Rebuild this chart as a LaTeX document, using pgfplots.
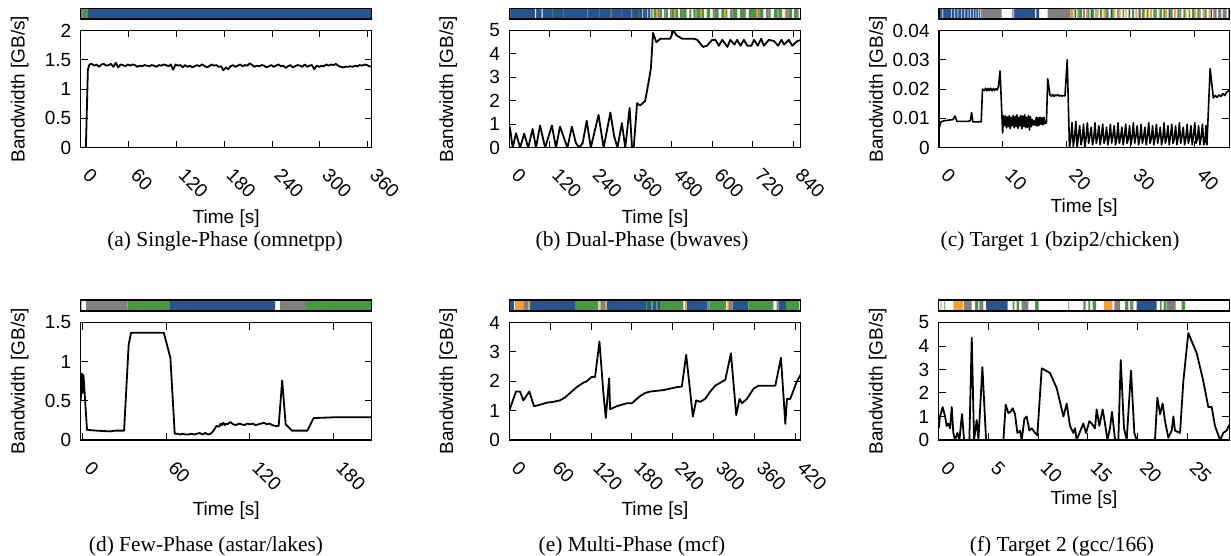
\documentclass[border=0pt]{standalone}
\usepackage{fontspec}
\setmainfont{Liberation Sans}
\newfontfamily\capfont{Liberation Serif}
\usepackage{pgfplots}
\pgfplotsset{compat=1.18}

\definecolor{phblue}{RGB}{38,84,145}
\definecolor{phgreen}{RGB}{72,152,64}
\definecolor{phgrey}{RGB}{128,128,128}
\definecolor{phorange}{RGB}{250,160,40}

\pgfplotsset{
  base/.style={
    scale only axis, anchor=north west,
    axis line style={line width=0.7pt},
    every tick/.style={black, line width=0.5pt},
    major tick length=3.5pt,
    tick align=inside,
    tick label style={font=\fontsize{9.5}{10}\selectfont},
    /pgf/number format/assume math mode=true,
  },
  mainax/.style={
    base,
    xticklabel style={xshift=5.3pt, yshift=-9.6pt, rotate=-45, anchor=north west, inner sep=0pt},
    yticklabel style={inner sep=0pt, xshift=-4.5pt},
    ylabel={Bandwidth [GB/s]}, xlabel={Time [s]},
    label style={font=\fontsize{9.5}{10}\selectfont},
    ylabel style={at={([xshift=-30.5pt]axis description cs:0,0.5)}, anchor=center},
    xlabel style={at={([yshift=-#1]axis description cs:0.5,0)}, anchor=center},
    ymin=0,
  },
  mainax/.default=35.5pt,
  barax/.style={
    base, axis on top, xtick=\empty, ytick=\empty,
    xmin=0, ymin=0, ymax=1,
  },
  seg/.style={const plot, draw=none, fill=#1},
  bw/.style={black, line width=0.9pt, line join=round, mark=none},
}

\begin{document}
\begin{tikzpicture}
\useasboundingbox (0,0) rectangle (615.5pt,-278pt);

% ---------------- (a) Single-Phase (omnetpp) ----------------
\begin{axis}[barax, at={(40.35pt,-4.15pt)}, width=145.5pt, height=5.35pt, xmax=291]
\addplot[seg=phgrey]  coordinates {(0,1)(2.3,0)} \closedcycle;
\addplot[seg=phgreen] coordinates {(2.3,1)(6.7,0)} \closedcycle;
\addplot[seg=phblue]  coordinates {(6.7,1)(291,0)} \closedcycle;
\end{axis}
\begin{axis}[mainax, at={(40.35pt,-15.25pt)}, width=145.5pt, height=58.6pt,
  xmin=0, xmax=365, ymax=2, xtick={0,60,...,360}, ytick={0,0.5,1,1.5,2}]
\addplot[bw] coordinates {(0,0.00)(6.5,0.00)(9,1.33)(11,1.42)(14,1.43)(17,1.40)(20,1.42)(23,1.38)(26,1.42)(29,1.43)(32,1.40)(35,1.41)(38,1.43)(41,1.38)(44,1.45)(47,1.37)(50,1.42)(53,1.41)(56,1.39)(59,1.42)(62,1.40)(65,1.42)(68,1.41)(71,1.38)(74,1.40)(77,1.39)(80,1.41)(83,1.40)(86,1.39)(89,1.41)(92,1.40)(95,1.38)(98,1.41)(101,1.40)(104,1.42)(107,1.41)(110,1.39)(113,1.42)(116,1.33)(119,1.42)(122,1.40)(125,1.41)(128,1.37)(131,1.41)(134,1.38)(137,1.40)(140,1.37)(143,1.39)(146,1.41)(149,1.39)(152,1.42)(155,1.40)(158,1.37)(161,1.39)(164,1.42)(167,1.40)(170,1.41)(173,1.38)(176,1.39)(179,1.32)(182,1.37)(185,1.34)(188,1.39)(191,1.41)(194,1.38)(197,1.40)(200,1.42)(203,1.39)(206,1.41)(209,1.40)(212,1.44)(215,1.41)(218,1.38)(221,1.40)(224,1.39)(227,1.41)(230,1.40)(233,1.37)(236,1.39)(239,1.41)(242,1.38)(245,1.40)(248,1.42)(251,1.39)(254,1.40)(257,1.36)(260,1.39)(263,1.41)(266,1.37)(269,1.39)(272,1.41)(275,1.40)(278,1.38)(281,1.42)(284,1.38)(287,1.40)(290,1.41)(293,1.34)(296,1.40)(299,1.38)(302,1.40)(305,1.39)(308,1.42)(311,1.40)(314,1.42)(317,1.41)(320,1.43)(323,1.40)(326,1.38)(329,1.37)(332,1.38)(335,1.38)(338,1.39)(341,1.38)(344,1.40)(347,1.39)(350,1.41)(353,1.40)(356,1.42)(359,1.41)(362,1.39)(365,1.38)};
\end{axis}

% ---------------- (b) Dual-Phase (bwaves) ----------------
\begin{axis}[barax, at={(254.65pt,-4.15pt)}, width=145.7pt, height=5.35pt, xmax=291.4]
\addplot[seg=phblue] coordinates {(0,1)(142.4,0)} \closedcycle;
\addplot[seg=white] coordinates {(25.7,1)(26.7,0)(32.4,1)(33.4,0)(132.7,1)(133.4,0)(138,1)(138.7,0)(140.7,1)(141.4,0)} \closedcycle;
\addplot[seg=phgrey] coordinates {(0.3,1)(1.2,0)(148,1)(150,0)(154.7,1)(156,0)(160.7,1)(162,0)(172.7,1)(174.7,0)(186,1)(187.4,0)(203.4,1)(205.4,0)(220.7,1)(223.4,0)(234.7,1)(236.7,0)(248.7,1)(250,0)(256.7,1)(259.4,0)(268,1)(269.4,0)(276.7,1)(279.4,0)(286.7,1)(289.4,0)} \closedcycle;
\addplot[seg=phorange] coordinates {(77.7,1)(78.4,0)(101.4,1)(102,0)(122,1)(122.7,0)(146.7,1)(148,0)(164.7,1)(166,0)(190.7,1)(192,0)(214.7,1)(216.7,0)(246.7,1)(248.7,0)(275.4,1)(276.7,0)} \closedcycle;
\addplot[seg=phgreen] coordinates {(42.7,1)(43.4,0)(53.7,1)(54.4,0)(89.7,1)(90.4,0)(112,1)(112.7,0)(129.4,1)(130,0)(135.4,1)(136,0)(143,1)(144,0)(144.7,1)(146.7,0)(150,1)(152.7,0)(156,1)(158.7,0)(162,1)(164.7,0)(166,1)(168.7,0)(170.7,1)(172.7,0)(174.7,1)(177.4,0)(180,1)(182,0)(184,1)(186,0)(187.4,1)(190.7,0)(192,1)(194.7,0)(197.4,1)(200.7,0)(205.4,1)(209.4,0)(212,1)(214.7,0)(216.7,1)(218,0)(223.4,1)(228,0)(230.7,1)(234.7,0)(239.4,1)(246.7,0)(250,1)(254,0)(259.4,1)(261.4,0)(264.7,1)(268,0)(269.4,1)(272.7,0)(279.4,1)(282.7,0)(284.7,1)(286.7,0)} \closedcycle;
\end{axis}
\begin{axis}[mainax, at={(254.65pt,-15.25pt)}, width=145.7pt, height=58.6pt,
  xmin=0, xmax=862, ymax=5, xtick={0,120,...,840}, ytick={0,1,...,5}]
\addplot[bw] coordinates {(0,0.90)(2,0.85)(10,0)(20,0.62)(32,0)(44,0.60)(56,0)(69,0.80)(79,0)(91,0.95)(106,0)(126,0.95)(138,0)(150,0.90)(167,0.20)(172,0)(185,0.90)(197,0.20)(207,0)(217,0.20)(229,1.15)(241,0)(264,1.40)(279,0)(299,1.50)(310,0.50)(320,0)(333,1.05)(343,0)(356,1.70)(363,0)(368,0)(378,1.90)(387,1.80)(402,2.00)(412,2.80)(419,3.40)(425,4.90)(435,4.50)(447,4.65)(476,4.65)(486,5.00)(494,4.80)(511,4.65)(546,4.65)(556,4.60)(573,4.30)(585,4.35)(600,4.60)(610,4.60)(620,4.35)(630,4.60)(645,4.30)(654,4.60)(666,4.40)(674,4.60)(684,4.35)(694,4.60)(704,4.35)(716,4.35)(724,4.60)(735,4.35)(745,4.65)(753,4.35)(768,4.60)(783,4.55)(795,4.35)(805,4.60)(813,4.40)(827,4.60)(837,4.35)(852,4.55)(864,4.60)};
\end{axis}

% ---------------- (c) Target 1 (bzip2/chicken) ----------------
\begin{axis}[barax, at={(469.5pt,-4.15pt)}, width=145.15pt, height=5.35pt, xmax=290.3]
\addplot[seg=phblue] coordinates {(1,1)(42.7,0)(73.3,1)(96,0)(97.3,1)(100,0)(135.7,1)(137,0)(144.3,1)(145.7,0)(151.7,1)(153,0)(166.3,1)(167.7,0)(171.7,1)(173,0)(178.3,1)(179.7,0)(189.7,1)(191,0)(199.7,1)(201.7,0)(216.3,1)(217.7,0)(229.7,1)(231.7,0)(271.7,1)(273,0)} \closedcycle;
\addplot[seg=white] coordinates {(3.3,1)(4,0)(12,1)(12.7,0)(15.3,1)(16,0)(18.7,1)(19.4,0)(22,1)(22.7,0)(25.3,1)(26,0)(28.7,1)(29.4,0)(31.3,1)(32,0)(34,1)(34.7,0)(36.7,1)(37.4,0)(39.3,1)(40,0)(41.3,1)(42,0)(74.3,1)(75,0)} \closedcycle;
\addplot[seg=phgrey] coordinates {(42.7,1)(62.7,0)(108.7,1)(131,0)(156.3,1)(157.7,0)(240.3,1)(242.3,0)(260.3,1)(261.7,0)(274.3,1)(277.7,0)(279,1)(282.3,0)(283.7,1)(287.7,0)(289,1)(290.3,0)} \closedcycle;
\addplot[seg=phorange] coordinates {(131,1)(132.3,0)(134.3,1)(135.7,0)(138,1)(139.3,0)(147,1)(148.3,0)(157.7,1)(159.7,0)(164.3,1)(166.3,0)(174.3,1)(176.3,0)(179.7,1)(181.7,0)(186.3,1)(187.7,0)(196.3,1)(198.3,0)(205,1)(206.3,0)(211,1)(213,0)(219.7,1)(221,0)(226.3,1)(228.3,0)(235,1)(237,0)(246.3,1)(247.7,0)(255,1)(257,0)(263.7,1)(265.7,0)(269.7,1)(271.7,0)} \closedcycle;
\addplot[seg=phgreen] coordinates {(132.3,1)(133.7,0)(139.3,1)(143,0)(148.3,1)(150.3,0)(153,1)(155,0)(161,1)(163,0)(167.7,1)(169.7,0)(173,1)(174.3,0)(183.7,1)(185,0)(193,1)(195,0)(203,1)(205,0)(207.7,1)(209.7,0)(214.3,1)(216.3,0)(221,1)(223,0)(224.3,1)(226.3,0)(231.7,1)(233.7,0)(238.3,1)(240.3,0)(244.3,1)(246.3,0)(249.7,1)(251,0)(253,1)(255,0)(258.3,1)(260.3,0)(265.7,1)(267.7,0)} \closedcycle;
\end{axis}
\begin{axis}[mainax=30pt, at={(469.5pt,-15.25pt)}, width=145.15pt, height=58.6pt,
  xmin=0, xmax=45.4, ymax=0.04, xtick={0,10,...,40},
  scaled y ticks=false, ytick={0,0.01,0.02,0.03,0.04}, yticklabels={0,0.01,0.02,0.03,0.04}]
\addplot[bw, line width=0.8pt] coordinates {(0,0.0065)(0.3,0.0088)(0.8,0.0092)(1.5,0.0094)(2.2,0.0096)(2.5,0.0108)(2.8,0.0090)(3.5,0.0090)(4.5,0.0090)(4.9,0.0092)(5.1,0.0120)(5.3,0.0088)(6.0,0.0088)(6.6,0.0088)
(6.8,0.0200)(7.1,0.0195)(7.3,0.0203)(7.5,0.0194)(7.7,0.0202)(7.9,0.0195)(8.1,0.0203)(8.3,0.0194)(8.5,0.0202)(8.7,0.0196)(8.9,0.0201)(9.1,0.0197)(9.3,0.0210)(9.55,0.0262)(9.95,0.0050)
(10.1,0.0110)(10.25,0.0075)(10.4,0.0108)(10.55,0.0068)(10.7,0.0105)(10.85,0.0072)(11.0,0.0110)(11.15,0.0065)(11.3,0.0104)(11.45,0.0075)(11.6,0.0110)(11.75,0.0068)(11.9,0.0106)(12.05,0.0072)(12.2,0.0112)(12.35,0.0066)(12.5,0.0104)(12.65,0.0074)(12.8,0.0110)(12.95,0.0064)(13.1,0.0108)(13.25,0.0072)(13.4,0.0112)(13.55,0.0068)(13.7,0.0104)(13.85,0.0070)(14.0,0.0110)(14.15,0.0060)(14.3,0.0106)(14.45,0.0072)(14.6,0.0096)(14.75,0.0078)(14.9,0.0092)(15.05,0.0076)(15.2,0.0104)(15.35,0.0074)(15.5,0.0102)(15.65,0.0076)(15.8,0.0104)(15.95,0.0080)(16.1,0.0102)(16.25,0.0078)(16.4,0.0104)(16.55,0.0082)(16.8,0.0085)
(17.0,0.0235)(17.35,0.0180)(17.6,0.0176)(17.8,0.0182)(18.0,0.0175)(18.2,0.0180)(18.4,0.0177)(18.6,0.0181)(18.8,0.0176)(19.0,0.0179)(19.2,0.0176)(19.4,0.0178)(19.7,0.0177)(20.05,0.0300)(20.4,0.0000)
(20.6,0.0030)(20.8,0.0085)(21.0,0.0005)(21.2,0.0035)(21.4,0.0090)(21.6,0.0000)(21.8,0.0040)(22.0,0.0075)(22.2,0.0010)(22.4,0.0030)(22.6,0.0080)(22.8,0.0000)(23.0,0.0035)(23.2,0.0085)(23.4,0.0015)(23.6,0.0040)(23.8,0.0070)(24.0,0.0010)(24.2,0.0030)(24.4,0.0085)(24.6,0.0015)(24.8,0.0035)(25.0,0.0075)(25.2,0.0010)(25.4,0.0040)(25.6,0.0080)(25.8,0.0015)(26.0,0.0030)(26.2,0.0070)(26.4,0.0010)(26.6,0.0035)(26.8,0.0080)(27.0,0.0015)(27.2,0.0040)(27.4,0.0075)(27.6,0.0010)(27.8,0.0030)(28.0,0.0085)(28.2,0.0015)(28.4,0.0035)(28.6,0.0070)(28.8,0.0010)(29.0,0.0040)(29.2,0.0080)(29.4,0.0015)(29.6,0.0030)(29.8,0.0075)(30.0,0.0010)(30.2,0.0035)(30.4,0.0085)(30.6,0.0015)(30.8,0.0040)(31.0,0.0075)(31.2,0.0010)(31.4,0.0030)(31.6,0.0080)(31.8,0.0015)(32.0,0.0035)(32.2,0.0070)(32.4,0.0010)(32.6,0.0040)(32.8,0.0085)(33.0,0.0015)(33.2,0.0030)(33.4,0.0075)(33.6,0.0010)(33.8,0.0035)(34.0,0.0080)(34.2,0.0015)(34.4,0.0040)(34.6,0.0070)(34.8,0.0010)(35.0,0.0030)(35.2,0.0085)(35.4,0.0015)(35.6,0.0035)(35.8,0.0075)(36.0,0.0010)(36.2,0.0040)(36.4,0.0080)(36.6,0.0015)(36.8,0.0030)(37.0,0.0075)(37.2,0.0010)(37.4,0.0035)(37.6,0.0085)(37.8,0.0015)(38.0,0.0040)(38.2,0.0070)(38.4,0.0010)(38.6,0.0030)(38.8,0.0080)(39.0,0.0015)(39.2,0.0035)(39.4,0.0075)(39.6,0.0010)(39.8,0.0040)(40.0,0.0085)(40.2,0.0015)(40.4,0.0030)(40.6,0.0075)(40.8,0.0010)(41.0,0.0035)(41.2,0.0080)(41.4,0.0010)(41.6,0.0020)(41.75,0.0075)(41.9,0.0010)
(42.4,0.0270)(42.9,0.0170)(43.2,0.0178)(43.5,0.0172)(43.8,0.0180)(44.1,0.0175)(44.4,0.0185)(44.7,0.0178)(45.0,0.0190)(45.4,0.0195)};
\end{axis}

% ---------------- (d) Few-Phase (astar/lakes) ----------------
\begin{axis}[barax, at={(40.35pt,-150pt)}, width=145.5pt, height=5.5pt, xmax=291]
\addplot[seg=phorange] coordinates {(0,1)(1.3,0)} \closedcycle;
\addplot[seg=phgrey]   coordinates {(5.3,1)(47,0)(199.3,1)(225.3,0)} \closedcycle;
\addplot[seg=phgreen]  coordinates {(47,1)(89.3,0)(225.3,1)(291,0)} \closedcycle;
\addplot[seg=phblue]   coordinates {(89.3,1)(194.3,0)} \closedcycle;
\end{axis}
\begin{axis}[mainax, at={(40.35pt,-161.25pt)}, width=145.5pt, height=58.75pt,
  xmin=-1, xmax=207, ymax=1.5, xtick={0,60,120,180}, ytick={0,0.5,1,1.5}]
\addplot[bw] coordinates {(-1,0.50)(-0.2,0.85)(0.5,0.60)(1,0.83)(3.5,0.13)(10,0.12)(20,0.11)(24,0.12)(30,0.12)(33.3,1.22)(35,1.37)(58.4,1.37)(63.1,1.05)(66.2,0.08)(68,0.08)(70,0.07)(72,0.08)(74,0.07)(76,0.07)(78,0.08)(80,0.07)(82,0.08)(84,0.09)(86,0.07)(88,0.09)(90,0.07)(92,0.08)(94,0.12)(96,0.18)(98,0.17)(99,0.21)(100,0.19)(101,0.22)(102,0.19)(103,0.21)(104,0.20)(106,0.23)(108,0.20)(110,0.19)(112,0.21)(114,0.20)(116,0.19)(118,0.21)(120,0.20)(122,0.21)(124,0.19)(126,0.20)(128,0.21)(130,0.22)(132,0.20)(134,0.21)(136,0.19)(138,0.18)(140.5,0.18)(143,0.76)(145.5,0.20)(150,0.12)(161,0.12)(165.5,0.28)(180,0.29)(207,0.29)};
\end{axis}

% ---------------- (e) Multi-Phase (mcf) ----------------
\begin{axis}[barax, at={(254.65pt,-150pt)}, width=145.7pt, height=5.5pt, xmax=291.4]
\addplot[seg=phblue] coordinates {(0,1)(4.7,0)(20.7,1)(65.7,0)(97.4,1)(136.7,0)(137.7,1)(142.4,0)(143.4,1)(147.4,0)(148.7,1)(150.7,0)(177.4,1)(198.4,0)(199,1)(200,0)(223.4,1)(239,0)(269,1)(276.7,0)} \closedcycle;
\addplot[seg=phorange] coordinates {(5.7,1)(14,0)(19,1)(20.7,0)(90,1)(91.3,0)(95.7,1)(97.4,0)(175.7,1)(177.4,0)(218,1)(219.7,0)} \closedcycle;
\addplot[seg=phgrey] coordinates {(14,1)(19,0)(91.3,1)(95.7,0)(219.7,1)(223.4,0)(267.4,1)(269,0)} \closedcycle;
\addplot[seg=phgreen] coordinates {(65.7,1)(89,0)(136.7,1)(137.7,0)(142.4,1)(143.4,0)(147.4,1)(148.7,0)(150.7,1)(174,0)(198.4,1)(199,0)(200,1)(216.7,0)(239,1)(264,0)(276.7,1)(290,0)} \closedcycle;
\end{axis}
\begin{axis}[mainax, at={(254.65pt,-161.25pt)}, width=145.7pt, height=58.75pt,
  xmin=0, xmax=428, ymax=4, xtick={0,60,...,420}, ytick={0,1,...,4}]
\addplot[bw] coordinates {(0,1.00)(9.8,1.65)(15.7,1.65)(20.6,1.35)(29.4,1.65)(36.3,1.15)(45.1,1.20)(54.9,1.27)(64.7,1.30)(74.5,1.35)(81.9,1.45)(89.2,1.60)(99,1.80)(108.8,1.95)(113.7,2.00)(121.1,2.15)(126,2.15)(132.4,3.35)(138.2,1.60)(141.7,0.75)(146.6,2.10)(148,1.05)(157.8,1.15)(172.5,1.25)(179.9,1.25)(192.2,1.50)(199.5,1.60)(206.9,1.65)(226.5,1.70)(236.3,1.75)(246.1,1.80)(253.4,1.82)(259.8,2.90)(269.6,0.80)(274.5,1.35)(280.4,1.30)(287.7,1.40)(295.1,1.65)(302.5,1.85)(309.8,1.95)(317.2,2.05)(325.5,2.95)(333.3,0.85)(338.2,1.40)(341.7,1.25)(349,1.40)(358.8,1.75)(366.2,1.85)(390.7,1.85)(399,2.80)(405.4,0.55)(407.8,1.40)(412.7,1.40)(421.6,1.95)(428.4,2.25)};
\end{axis}

% ---------------- (f) Target 2 (gcc/166) ----------------
\begin{axis}[barax, at={(469.35pt,-150pt)}, width=145.3pt, height=5.5pt, xmax=290.6]
\addplot[seg=phgreen] coordinates {(2,1)(2.7,0)(5.6,1)(6.3,0)(36.3,1)(39.6,0)(74,1)(75.6,0)(78,1)(80.3,0)(96.3,1)(100,0)(129.6,1)(130.3,0)(144.6,1)(147,0)(149.6,1)(151.3,0)(154,1)(157.3,0)(186.3,1)(189.6,0)(221.3,1)(223,0)(225,1)(227.6,0)(243,1)(246.3,0)} \closedcycle;
\addplot[seg=phorange] coordinates {(14.6,1)(24.6,0)(165.3,1)(173.6,0)} \closedcycle;
\addplot[seg=phgrey] coordinates {(25.3,1)(33,0)(40.6,1)(44.6,0)(83,1)(89.6,0)(175.6,1)(181.3,0)(191.3,1)(194.6,0)(228,1)(237,0)} \closedcycle;
\addplot[seg=phblue] coordinates {(47.3,1)(69,0)(198,1)(218,0)} \closedcycle;
\end{axis}
\begin{axis}[mainax=30pt, at={(469.35pt,-161.25pt)}, width=145.3pt, height=58.75pt,
  xmin=0, xmax=29.2, ymax=5, xtick={0,5,...,25}, ytick={0,1,...,5}]
\addplot[bw] coordinates {(0,0.50)(0.13,1.00)(0.4,1.40)(0.64,1.00)(0.8,0.60)(0.97,0.70)(1.14,0.50)(1.31,1.40)(1.47,0.30)(1.64,0)(1.88,0.30)(2.08,0)(2.34,1.10)(2.55,0)(3.08,0)(3.32,4.35)(3.55,0)(3.82,0.85)(3.99,0)(4.39,3.10)(4.76,0)(6.5,0)(6.73,1.50)(7,1.15)(7.23,1.20)(7.43,1.35)(7.67,1.10)(7.9,0.30)(8.17,0.40)(8.34,0)(8.61,0.90)(8.84,1.00)(9.11,0.40)(9.34,0.50)(9.68,0.30)(9.91,0.20)(10.35,3.05)(11.19,2.85)(11.86,2.20)(12.53,1.00)(12.86,1.55)(13.19,0.60)(13.53,0.30)(13.7,0.50)(13.86,0)(14.53,0.70)(14.8,0.30)(15.14,0.80)(15.37,0.70)(15.71,0.50)(15.87,1.30)(16.14,0.60)(16.48,1.30)(16.71,0.70)(16.95,0)(17.21,0.50)(17.41,1.20)(17.72,0)(18.05,0)(18.29,3.40)(18.62,0.50)(18.89,0)(19.32,2.95)(19.66,0.30)(19.89,0)(21.73,0)(21.97,1.80)(22.24,1.10)(22.5,1.55)(22.74,0.80)(23.07,0.10)(23.41,0.40)(23.58,1.00)(23.74,0.40)(24.25,0.30)(24.58,2.50)(25.08,4.55)(25.92,3.70)(26.59,2.50)(27.09,1.40)(27.43,1.40)(27.76,0.60)(28.1,0.20)(28.27,0)(28.6,0.30)(28.93,0.40)(29.2,0.65)};
\end{axis}

% sub-figure captions
\begin{scope}[every node/.style={font=\capfont\fontsize{10.7}{12}\selectfont}]
\node at (112.5pt,-120.5pt) {(a) Single-Phase (omnetpp)};
\node at (321pt,-120.5pt) {(b) Dual-Phase (bwaves)};
\node at (530pt,-120.5pt) {(c) Target 1 (bzip2/chicken)};
\node at (103pt,-273pt) {(d) Few-Phase (astar/lakes)};
\node at (316pt,-273pt) {(e) Multi-Phase (mcf)};
\node at (531pt,-273pt) {(f) Target 2 (gcc/166)};
\end{scope}
\end{tikzpicture}
\end{document}
